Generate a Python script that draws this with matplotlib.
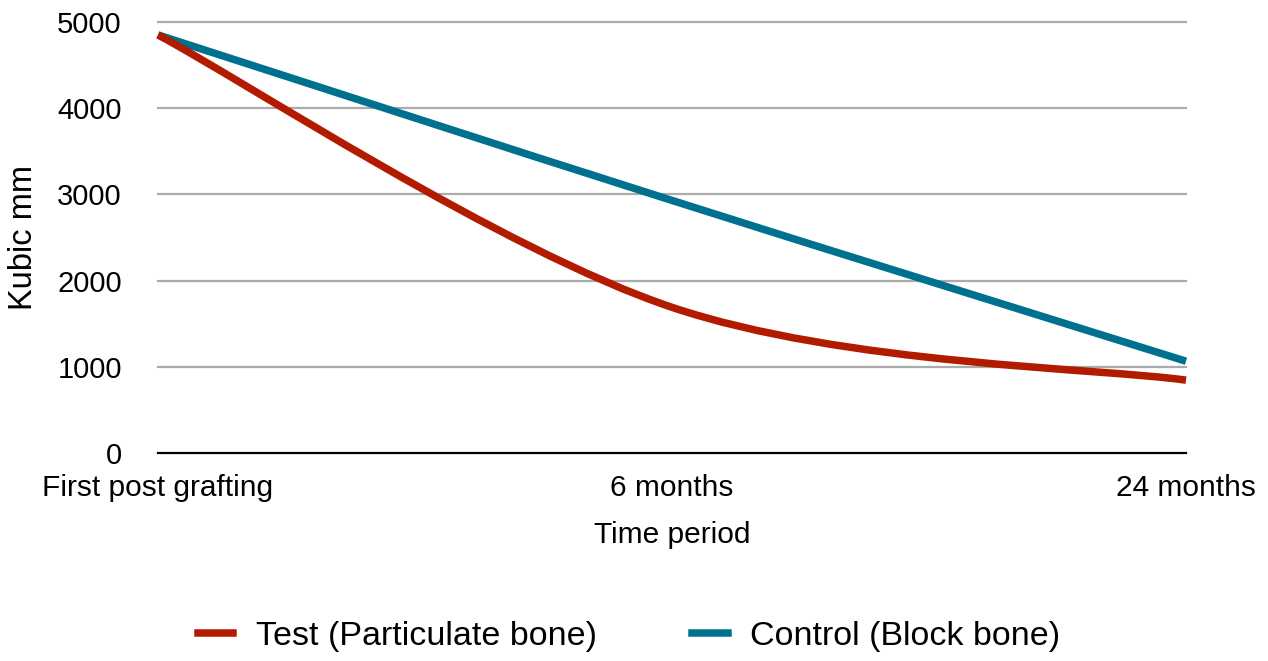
import matplotlib
matplotlib.use("Agg")
import matplotlib.pyplot as plt
from matplotlib.path import Path
from matplotlib.patches import PathPatch
from matplotlib.lines import Line2D

plt.rcParams['font.family'] = ['Liberation Sans', 'DejaVu Sans']

# data
periods = ["First post grafting", "6 months", "24 months"]
test_vals = [4850, 1690, 845]       # Test (Particulate bone)
control_vals = [4850, 2930, 1065]   # Control (Block bone)
y_ticks = [0, 1000, 2000, 3000, 4000, 5000]

RED = '#b31b00'
TEAL = '#00708f'


def smooth_path(xs, ys):
    # Catmull-Rom style cubic Bezier through the points (ends use duplicated point)
    n = len(xs)
    pts = list(zip(xs, ys))
    tang = []
    for i in range(n):
        a = pts[max(i - 1, 0)]
        b = pts[min(i + 1, n - 1)]
        tang.append(((b[0] - a[0]) / 2.0, (b[1] - a[1]) / 2.0))
    verts = [pts[0]]
    codes = [Path.MOVETO]
    for i in range(n - 1):
        p0, p1 = pts[i], pts[i + 1]
        m0, m1 = tang[i], tang[i + 1]
        verts += [(p0[0] + m0[0] / 3, p0[1] + m0[1] / 3),
                  (p1[0] - m1[0] / 3, p1[1] - m1[1] / 3),
                  p1]
        codes += [Path.CURVE4] * 3
    return Path(verts, codes)


fig = plt.figure(figsize=(12.68, 6.61), dpi=100)
W, H = 1268, 661
ax = fig.add_axes([158 / W, 1 - 453 / H, (1186 - 158) / W, (453 - 22) / H])

x = list(range(len(periods)))
ax.set_xlim(0, 2)
ax.set_ylim(0, 5000)

# gridlines
for yv in y_ticks[1:]:
    ax.axhline(yv, color='#ababab', linewidth=1.6, zorder=1, clip_on=False)
ax.axhline(0, color='black', linewidth=1.6, zorder=2, clip_on=False)

ax.add_patch(PathPatch(smooth_path(x, control_vals), facecolor='none', edgecolor=TEAL,
                       linewidth=5.4, capstyle='butt', zorder=3, clip_on=False))
ax.add_patch(PathPatch(smooth_path(x, test_vals), facecolor='none', edgecolor=RED,
                       linewidth=5.4, capstyle='butt', zorder=4, clip_on=False))

for s in ax.spines.values():
    s.set_visible(False)

ax.set_yticks(y_ticks)
ax.set_yticklabels([str(v) for v in y_ticks], fontsize=21)
ax.set_xticks(x)
ax.set_xticklabels(periods, fontsize=21.5)
ax.tick_params(axis='y', length=0, pad=26)
ax.tick_params(axis='x', length=0, pad=15)

ax.set_xlabel("Time period", fontsize=21.5, labelpad=14)
ax.set_ylabel("Kubic mm", fontsize=23.5, labelpad=13)

handles = [Line2D([], [], color=RED, linewidth=5.4),
           Line2D([], [], color=TEAL, linewidth=5.4)]
fig.legend(handles, ["Test (Particulate bone)", "Control (Block bone)"],
           loc='center', bbox_to_anchor=(629 / W, 1 - 636 / H), ncol=2,
           frameon=False, fontsize=24.5, handlelength=1.05, handletextpad=0.66,
           columnspacing=2.8)

fig.savefig("out.png", dpi=100)
